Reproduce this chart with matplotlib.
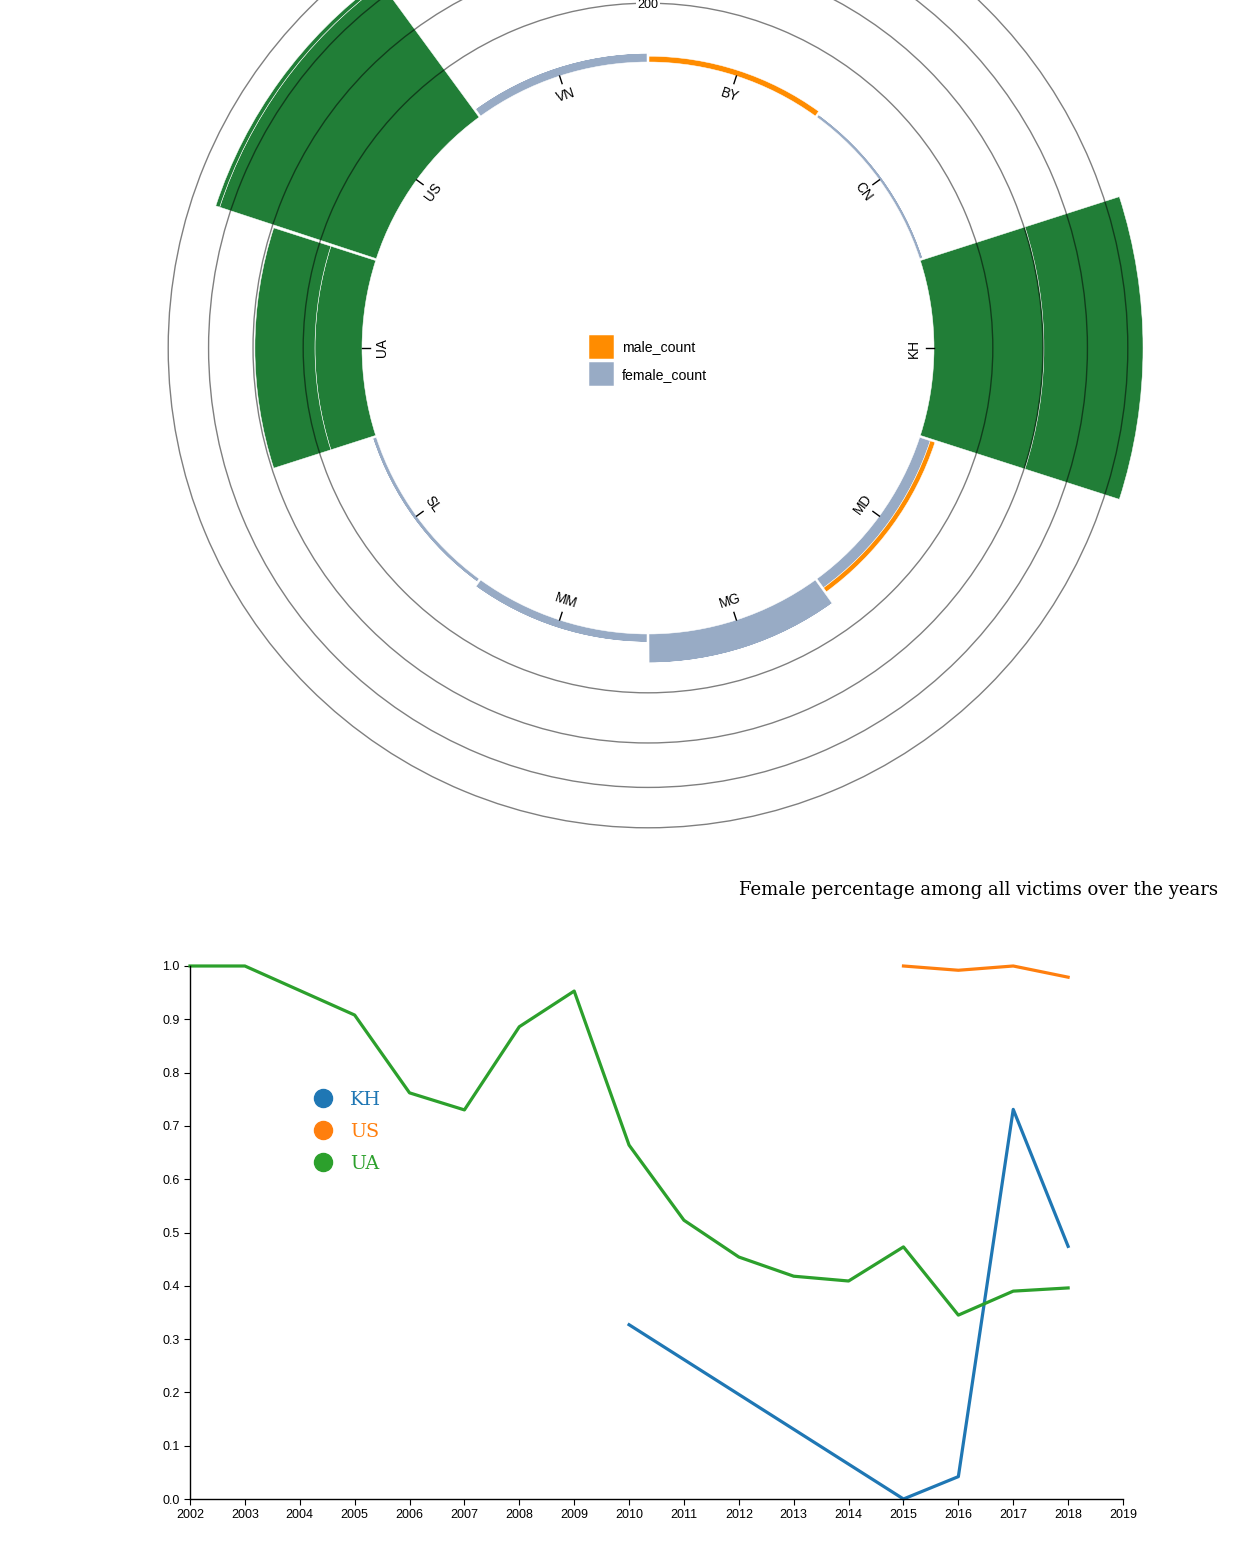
import numpy as np
import matplotlib.pyplot as plt
import matplotlib.transforms as mtransforms
from matplotlib.lines import Line2D

plt.rcParams['font.family'] = ['Liberation Sans', 'DejaVu Sans']

# radial chart: counts per country (female stacked first, male on top)
countries = ["BY", "CN", "KH", "MD", "MG", "MM", "SL", "UA", "US", "VN"]
female_count = [0, 10, 404, 35, 94, 26, 12, 157, 655, 28]
male_count = [18, 0, 476, 16, 0, 0, 0, 235, 20, 0]
highlight = ["KH", "US", "UA"]
rticks = [200, 400, 600, 800]

# line chart: female share per year
years_KH = [2010, 2015, 2016, 2017, 2018]
pct_KH = [0.327, 0.0, 0.042, 0.731, 0.474]
years_US = [2015, 2016, 2017, 2018]
pct_US = [1.0, 0.992, 1.0, 0.979]
years_UA = [2002, 2003, 2005, 2006, 2007, 2008, 2009, 2010, 2011, 2012,
            2013, 2014, 2015, 2016, 2017, 2018]
pct_UA = [1.0, 1.0, 0.908, 0.762, 0.730, 0.886, 0.953, 0.664, 0.523, 0.454,
          0.418, 0.409, 0.473, 0.345, 0.390, 0.396]

W, H = 1260, 1564
fig = plt.figure(figsize=(W / 100, H / 100), dpi=100)

# sqrt-like radial scale with an inner hole (like d3.scaleRadial)
R0SQ = 286.0 ** 2
K = 185.5


def fwd(v):
    return np.sqrt(np.maximum(R0SQ + K * np.asarray(v, dtype=float), 0))


def inv(r):
    return (np.asarray(r, dtype=float) ** 2 - R0SQ) / K


rmax_val = 1100
R = float(fwd(rmax_val))
cx, cy = 648, 348
ax = fig.add_axes([(cx - R) / W, (H - cy - R) / H, 2 * R / W, 2 * R / H],
                  projection='polar')
ax.set_theta_zero_location('N')
ax.set_theta_direction(-1)
ax.set_rscale('function', functions=(fwd, inv))
ax.set_ylim(-60, rmax_val)
ax.set_rorigin(-R0SQ / K)

n = len(countries)
band = 2 * np.pi / n
theta = np.arange(n) * band + band / 2
pad = 0.007
green = '#217e37'
fcol = [green if c in highlight else '#98abc5' for c in countries]
mcol = [green if c in highlight else '#ff8c00' for c in countries]

female_bars = ax.bar(theta, female_count, width=band - pad, bottom=0, color=fcol,
                     edgecolor='white', linewidth=0.35)
male_bars = ax.bar(theta, male_count, width=band - pad, bottom=female_count,
                   color=mcol, edgecolor='white', linewidth=0.35)

ax.set_xticks([])
ax.set_rticks(rticks)
ax.set_yticklabels([])
ax.yaxis.grid(True, color='black', alpha=0.5, linewidth=1)
ax.set_axisbelow(False)
for s in ax.spines.values():
    s.set_visible(False)
    s.set_color('none')
ax.patch.set_visible(False)

# only the first ring label falls inside the picture
down = mtransforms.ScaledTranslation(0, -2 / 100, fig.dpi_scale_trans)
ax.text(0, rticks[0], str(rticks[0]), ha='center', va='center', fontsize=9,
        transform=ax.transData + down,
        bbox=dict(facecolor='white', edgecolor='none', pad=1))

for th, name in zip(theta, countries):
    a = np.degrees(th)
    rot = -(((a + 90) % 180) - 90)
    ax.plot([th, th], [inv(278), 0], color='black', linewidth=1)
    ax.text(th, inv(266), name, rotation=rot, rotation_mode='anchor',
            ha='center', va='center', fontsize=9.8)

fig.legend([male_bars, female_bars], ['male_count', 'female_count'],
           loc='upper left', bbox_to_anchor=(589 / W, 1 - 335 / H),
           frameon=False, fontsize=10.2, handlelength=1.75, handleheight=2.25,
           handletextpad=0.6, labelspacing=0.22, borderpad=0, borderaxespad=0)

# line chart
ax2 = fig.add_axes([190 / W, 1 - 1499 / H, (1123 - 190) / W, (1499 - 966) / H])
colors = ['#1f77b4', '#ff7f0e', '#2ca02c']
ax2.plot(years_KH, pct_KH, color=colors[0], lw=2.3, clip_on=False)
ax2.plot(years_US, pct_US, color=colors[1], lw=2.3, clip_on=False)
ax2.plot(years_UA, pct_UA, color=colors[2], lw=2.3, clip_on=False)
ax2.set_xlim(2002, 2019)
ax2.set_ylim(0, 1)
ax2.set_xticks(range(2002, 2020))
ax2.set_yticks(np.arange(0, 1.01, 0.1))
ax2.set_yticklabels(['%.1f' % v for v in np.arange(0, 1.01, 0.1)])
ax2.tick_params(labelsize=9, length=4.3, width=0.8, pad=3)
for side in ['top', 'right']:
    ax2.spines[side].set_visible(False)
for side in ['left', 'bottom']:
    ax2.spines[side].set_linewidth(1)

handles = [Line2D([], [], marker='o', ls='', color=c, markersize=13) for c in colors]
ax2.legend(handles, ['KH', 'US', 'UA'], loc='upper left',
           bbox_to_anchor=((314 - 190) / 933, (1499 - 1091) / 533),
           frameon=False, prop={'family': 'DejaVu Serif', 'size': 13.8},
           labelcolor=colors, handlelength=0.94, handletextpad=0.95,
           labelspacing=0.72, borderpad=0, borderaxespad=0)

fig.text(1218 / W, 1 - 890 / H, 'Female percentage among all victims over the years',
         ha='right', va='center', fontsize=13.0, family='DejaVu Serif')

fig.savefig('out.png', dpi=100)
